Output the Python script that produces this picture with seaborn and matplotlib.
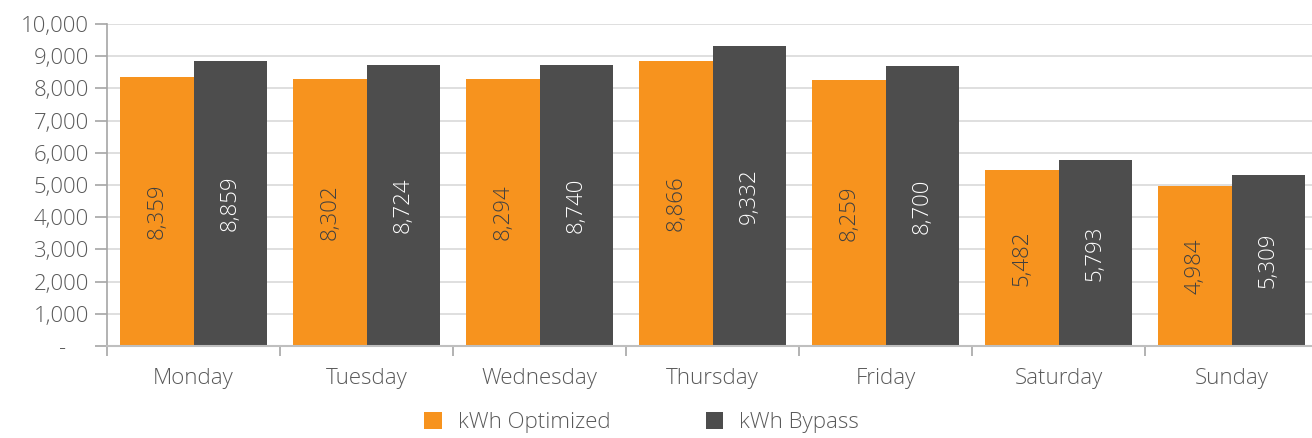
import pandas as pd
import numpy as np
import matplotlib.pyplot as plt
import seaborn as sns
from matplotlib.ticker import FuncFormatter, FixedLocator

days = ['Monday', 'Tuesday', 'Wednesday', 'Thursday', 'Friday', 'Saturday', 'Sunday']
kwh_optimized = [8359, 8302, 8294, 8866, 8259, 5482, 4984]
kwh_bypass = [8859, 8724, 8740, 9332, 8700, 5793, 5309]
series_names = ['kWh Optimized', 'kWh Bypass']

series_color = {
    'kWh Optimized': '#F7931E',
    'kWh Bypass': '#4D4D4D'
}
label_color = {
    'kWh Optimized': '#404040',
    'kWh Bypass': 'white'
}

df = pd.DataFrame({
    'day': days * 2,
    'kwh': kwh_optimized + kwh_bypass,
    'series': [series_names[0]] * len(days) + [series_names[1]] * len(days)
})

sns.set_style('white')
plt.rcParams['font.family'] = ['Open Sans', 'DejaVu Sans']
text_gray = '#595959'
fsize = 16

fig = plt.figure(figsize=(13.12, 4.38), dpi=100)
ax = fig.add_axes([0.0816, 0.21, 0.923, 0.735])

sns.barplot(
    data=df,
    x='day',
    y='kwh',
    hue='series',
    hue_order=series_names,
    palette=series_color,
    width=0.85,
    saturation=1,
    linewidth=0,
    ax=ax
)

for container, name in zip(ax.containers, series_names):
    vals = kwh_optimized if name == series_names[0] else kwh_bypass
    ax.bar_label(
        container,
        labels=[f'{v:,}' for v in vals],
        label_type='center',
        rotation=90,
        color=label_color[name],
        fontsize=fsize,
        fontweight='light',
        padding=0
    )

ax.set_ylim(0, 10000)
ax.set_xlim(-0.5, len(days) - 0.5)
ax.set_yticks(np.arange(0, 10001, 1000))
ax.yaxis.set_major_formatter(FuncFormatter(lambda v, p: '-    ' if v == 0 else f'{int(v):,}'))
ax.yaxis.grid(True, color='#D9D9D9', linewidth=1.2)
ax.set_axisbelow(True)

ax.xaxis.set_minor_locator(FixedLocator(np.arange(-0.5, len(days), 1)))
ax.tick_params(axis='x', which='major', length=0, pad=16, labelsize=fsize, labelcolor=text_gray)
ax.tick_params(axis='x', which='minor', length=7, width=1.2, color='#A6A6A6', bottom=True)
ax.tick_params(axis='y', which='major', length=9, width=1.2, color='#A6A6A6', left=True,
               labelsize=fsize, labelcolor=text_gray, pad=4)
for lab in ax.get_xticklabels() + ax.get_yticklabels():
    lab.set_fontweight('light')

for side in ['top', 'right']:
    ax.spines[side].set_visible(False)
ax.spines['left'].set_color('#A6A6A6')
ax.spines['bottom'].set_color('#BFBFBF')
ax.spines['left'].set_linewidth(1.2)
ax.spines['bottom'].set_linewidth(1.5)

ax.set_xlabel('')
ax.set_ylabel('')

handles, labels = ax.get_legend_handles_labels()
ax.legend_.remove()
fig.legend(
    handles, labels,
    loc='center',
    bbox_to_anchor=(0.489, 0.035),
    ncol=2,
    frameon=False,
    handlelength=0.8,
    handleheight=0.8,
    handletextpad=0.7,
    columnspacing=4.3,
    prop={'size': fsize, 'weight': 'light'},
    labelcolor=text_gray
)

fig.savefig('out.png', dpi=100)
